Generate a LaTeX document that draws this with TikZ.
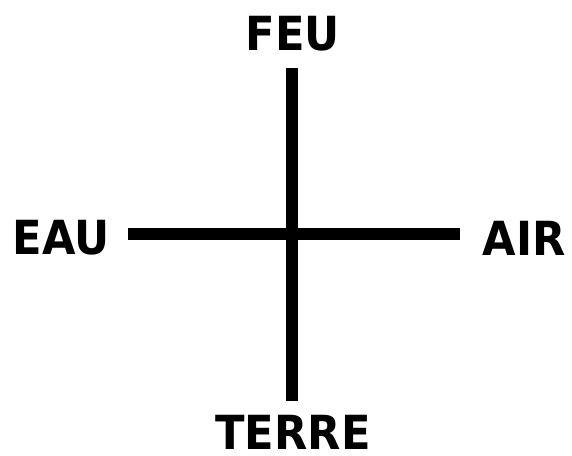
\documentclass[tikz,border=0pt]{standalone}
\usepackage{fontspec}
\setmainfont{DejaVu Sans}[FakeStretch=0.92]
\usepackage{tikz}

\begin{document}
\begin{tikzpicture}[x=1pt, y=1pt, line cap=butt,
    elem/.style={font=\bfseries\fontsize{47}{47}\selectfont, inner sep=0pt}]
      \useasboundingbox (0,0) rectangle (572,455);
      \coordinate (N) at (292,387);
      \coordinate (S) at (292,54);
      \coordinate (W) at (128,221);
      \coordinate (E) at (460,221);
      
      \node[elem] (feu) at (293,421) {FEU};
      \node[elem] (eau) at (61,217) {EAU};
      \node[elem] (air) at (524,217) {AIR};
      \node[elem] (terre) at (293,23) {TERRE};
      
      \draw[line width=12.5pt] (N) -- (S);
      \draw[line width=12.5pt] (W) -- (E);
    \end{tikzpicture}
\end{document}
